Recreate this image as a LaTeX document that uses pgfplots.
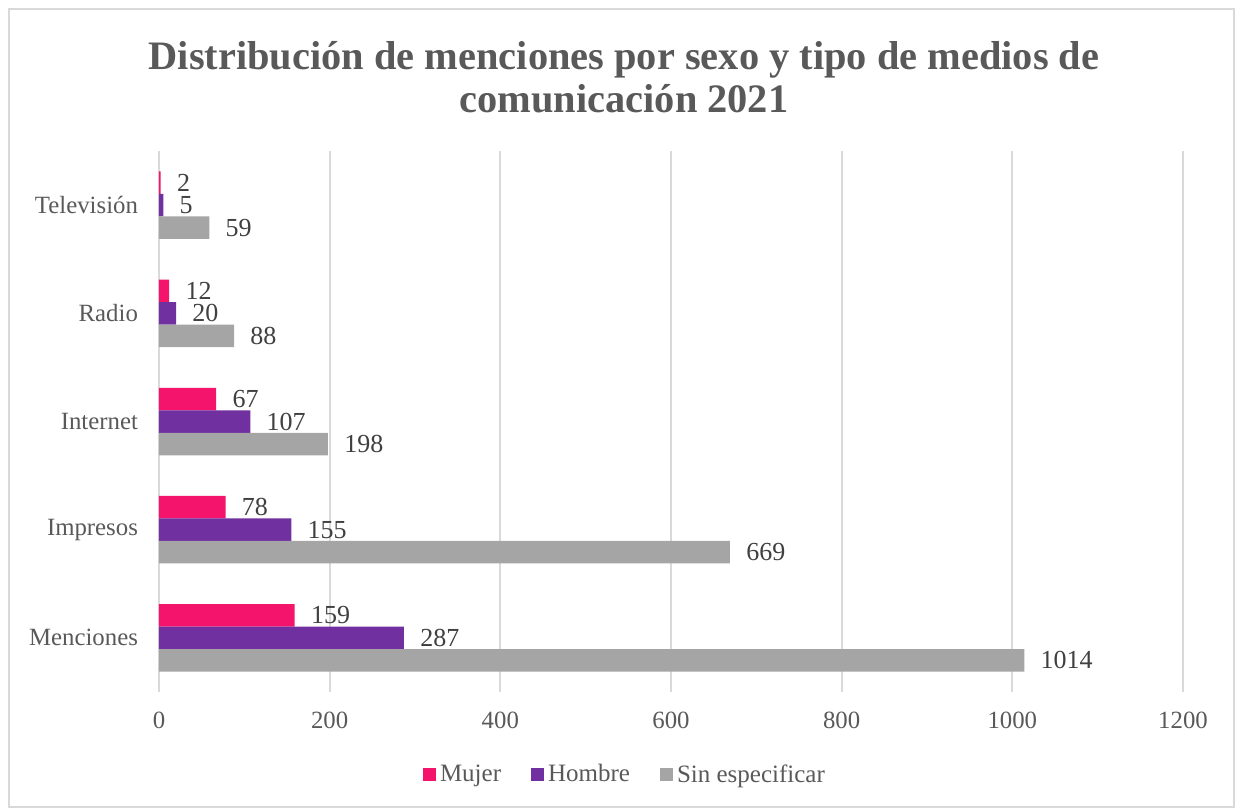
\documentclass[border=0pt]{standalone}
\usepackage{fontspec}
\setmainfont{Liberation Serif}
\usepackage{pgfplots}
\pgfplotsset{compat=1.18}

\definecolor{mujer}{HTML}{F5146B}
\definecolor{hombre}{HTML}{7030A0}
\definecolor{sinesp}{HTML}{A5A5A5}
\definecolor{txt}{HTML}{595959}
\definecolor{lbl}{HTML}{404040}
\definecolor{grd}{HTML}{D9D9D9}

\begin{document}
\begin{tikzpicture}
% page size = 1235x808 px, 1 px = 0.5pt, origin at plot area lower left
\path (-79.5pt,-58pt) rectangle (538pt,346pt);
\draw[grd, line width=0.75pt] (-75pt,-57.5pt) rectangle (537.5pt,341.5pt);

\node[font=\fontsize{20.2}{21.5}\selectfont\bfseries, text=txt, align=center]
  at (232.5pt,307.5pt) {Distribución de menciones por sexo y tipo de medios de\\comunicación 2021};

\begin{axis}[
  xbar,
  scale only axis,
  width=512pt,
  height=270.5pt,
  at={(0,0)}, anchor=south west,
  bar width=11.25pt,
  xmin=0, xmax=1200,
  xtick={0,200,...,1200},
  ymin=-0.5, ymax=4.5,
  ytick={0,1,2,3,4},
  yticklabels={Menciones,Impresos,Internet,Radio,Televisión},
  axis line style={draw=none},
  major tick length=0pt,
  xmajorgrids,
  grid style={grd, line width=1pt},
  /pgf/number format/1000 sep={},
  /pgf/number format/assume math mode=true,
  tick label style={font=\fontsize{12.4}{14}\selectfont, text=txt},
  xticklabel style={yshift=-6.5pt},
  yticklabel style={xshift=-7pt},
  point meta=x,
  nodes near coords,
  nodes near coords style={font=\fontsize{13}{15}\selectfont, text=lbl, anchor=west, inner sep=0pt, xshift=8pt},
  legend style={at={(0.456,-0.153)}, anchor=center, draw=none, fill=none,
    legend columns=-1, font=\fontsize{12.5}{14}\selectfont, text=txt,
    /tikz/every even column/.append style={column sep=13pt}},
  legend cell align=left,
  legend image code/.code={\fill[#1] (0pt,-3.25pt) rectangle (6.5pt,3.25pt);},
]
\addplot[fill=mujer, draw=none, bar shift=11.25pt] coordinates {
  (159,0) (78,1) (67,2) (12,3) (2,4)
};
\addlegendentry{Mujer}
\addplot[fill=hombre, draw=none, bar shift=0pt] coordinates {
  (287,0) (155,1) (107,2) (20,3) (5,4)
};
\addlegendentry{Hombre}
\addplot[fill=sinesp, draw=none, bar shift=-11.25pt] coordinates {
  (1014,0) (669,1) (198,2) (88,3) (59,4)
};
\addlegendentry{Sin especificar}
\end{axis}
\end{tikzpicture}
\end{document}
